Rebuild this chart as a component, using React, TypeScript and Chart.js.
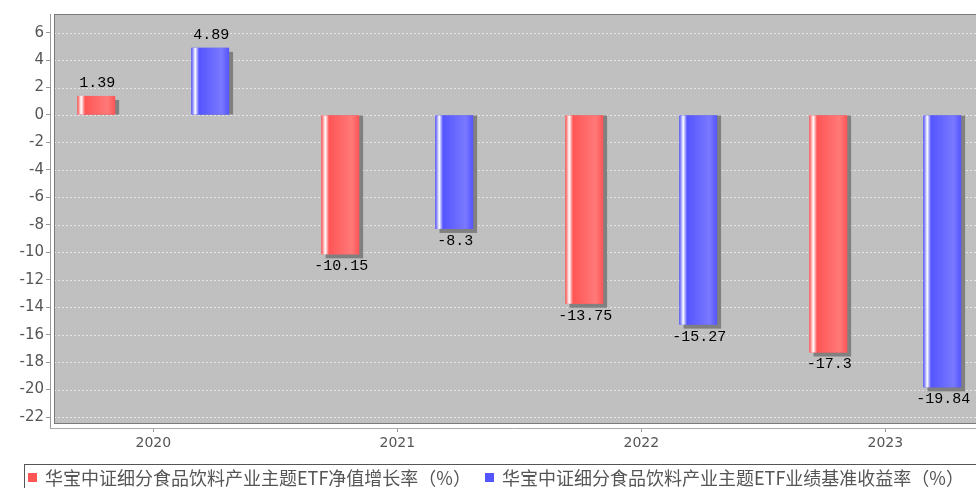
import React, { useEffect, useRef } from "react";
import { Chart, registerables } from "chart.js";

Chart.register(...registerables);

const YEARS = ["2020", "2021", "2022", "2023"];
const NAV_GROWTH = [1.39, -10.15, -13.75, -17.3];
const BENCHMARK = [4.89, -8.3, -15.27, -19.84];
const Y_TICKS = [-22, -20, -18, -16, -14, -12, -10, -8, -6, -4, -2, 0, 2, 4, 6];
const SERIES_NAMES = [
  "华宝中证细分食品饮料产业主题ETF净值增长率（%）",
  "华宝中证细分食品饮料产业主题ETF业绩基准收益率（%）",
];
const BASE_COLORS = ["#ff5555", "#5555ff"];
const LIGHT_COLORS = ["rgb(255,121,121)", "rgb(121,121,255)"];

const plotPlugin = {
  id: "plotFrame",
  beforeDraw(chart: any) {
    const { ctx, chartArea: a } = chart;
    const left = a.left + 4;
    const top = a.top;
    const right = a.right + 4;
    const bottom = a.bottom - 5;
    ctx.save();
    ctx.fillStyle = "#c0c0c0";
    ctx.fillRect(left, top, right - left, bottom - top);
    const ys = chart.scales.y;
    ctx.strokeStyle = "#e6e6e6";
    ctx.lineWidth = 1;
    ctx.setLineDash([2, 2]);
    for (const v of Y_TICKS) {
      const py = Math.round(ys.getPixelForValue(v)) + 0.5;
      ctx.beginPath();
      ctx.moveTo(left, py);
      ctx.lineTo(right, py);
      ctx.stroke();
    }
    ctx.setLineDash([]);
    ctx.strokeStyle = "#7a7a7a";
    ctx.strokeRect(left + 0.5, top + 0.5, right - left, bottom - top);
    ctx.restore();
  },
  beforeDatasetsDraw(chart: any) {
    const { ctx } = chart;
    ctx.save();
    ctx.fillStyle = "#808080";
    chart.data.datasets.forEach((ds: any, di: number) => {
      const meta = chart.getDatasetMeta(di);
      meta.data.forEach((bar: any, i: number) => {
        const { x, y, base, width } = bar.getProps(["x", "y", "base", "width"], true);
        const l = x - width / 2 + 4;
        const v = ds.data[i].y;
        if (v >= 0) {
          ctx.fillRect(l, y + 4, width, base - (y + 4));
        } else {
          ctx.fillRect(l, base, width, y + 4 - base);
        }
      });
    });
    ctx.restore();
  },
  afterDatasetsDraw(chart: any) {
    const { ctx } = chart;
    ctx.save();
    chart.data.datasets.forEach((ds: any, di: number) => {
      const meta = chart.getDatasetMeta(di);
      meta.data.forEach((bar: any, i: number) => {
        const { x, y, base, width } = bar.getProps(["x", "y", "base", "width"], true);
        const l = x - width / 2;
        const r = x + width / 2;
        const top = Math.min(y, base);
        const bot = Math.max(y, base);
        const g = ctx.createLinearGradient(l, 0, r, 0);
        g.addColorStop(0, BASE_COLORS[di]);
        g.addColorStop(0.1, "#ffffff");
        g.addColorStop(0.2, BASE_COLORS[di]);
        g.addColorStop(0.8, LIGHT_COLORS[di]);
        g.addColorStop(1, BASE_COLORS[di]);
        ctx.fillStyle = g;
        ctx.fillRect(l, top, width, bot - top);
        const v = ds.data[i].y;
        ctx.fillStyle = "#000";
        ctx.font = '15px "Liberation Mono"';
        ctx.textAlign = "center";
        ctx.textBaseline = "middle";
        const ty = v >= 0 ? top - 13 : bot + 12;
        ctx.fillText(String(v), x + 1, ty);
      });
    });
    ctx.restore();
  },
  afterDraw(chart: any) {
    const { ctx } = chart;
    ctx.save();
    ctx.strokeStyle = "#555";
    ctx.lineWidth = 1;
    ctx.strokeRect(24.5, 464.5, 1000, 40);
    ctx.font = '18px "Noto Sans CJK SC"';
    ctx.textBaseline = "middle";
    ctx.textAlign = "left";
    const xs = [28, 485];
    SERIES_NAMES.forEach((name, i) => {
      ctx.fillStyle = BASE_COLORS[i];
      ctx.fillRect(xs[i], 473, 9, 9);
      ctx.fillStyle = "#555";
      ctx.fillText(name, xs[i] + 17, 478);
    });
    ctx.restore();
  },
};

export default function App() {
  const ref = useRef<HTMLCanvasElement>(null);
  useEffect(() => {
    if (!ref.current) return;
    const chart = new Chart(ref.current, {
      type: "bar",
      data: {
        datasets: [
          {
            label: SERIES_NAMES[0],
            data: NAV_GROWTH.map((v, i) => ({ x: i, y: v })),
            backgroundColor: BASE_COLORS[0],
            borderWidth: 0,
          },
          {
            label: SERIES_NAMES[1],
            data: BENCHMARK.map((v, i) => ({ x: i, y: v })),
            backgroundColor: BASE_COLORS[1],
            borderWidth: 0,
          },
        ],
      } as any,
      options: {
        responsive: false,
        animation: false,
        categoryPercentage: 0.934,
        barPercentage: 0.33,
        layout: { padding: { top: 14, left: 0, right: 0, bottom: 0 } },
        plugins: { legend: { display: false }, tooltip: { enabled: false } },
        scales: {
          x: {
            type: "linear",
            offset: false,
            min: -0.4234,
            max: 3.3717,
            afterBuildTicks: (s: any) => {
              s.ticks = YEARS.map((_, i) => ({ value: i }));
            },
            afterFit: (s: any) => {
              s.height = 60;
            },
            ticks: {
              callback: (v: any) => YEARS[Math.round(Number(v))],
              font: { family: "DejaVu Sans", size: 14 },
              color: "#555",
              padding: 3,
              maxRotation: 0,
            },
            grid: {
              offset: false,
              drawOnChartArea: false,
              drawTicks: true,
              tickLength: 4,
              tickColor: "#999",
            },
            border: { display: true, color: "#aaa" },
          },
          y: {
            min: -22.8,
            max: 7.356,
            afterBuildTicks: (s: any) => {
              s.ticks = Y_TICKS.map((v) => ({ value: v }));
            },
            afterFit: (s: any) => {
              s.width = 50;
            },
            ticks: {
              callback: (v: any) => String(v),
              font: { family: "DejaVu Sans", size: 15 },
              color: "#555",
              padding: 2,
            },
            grid: {
              drawOnChartArea: false,
              drawTicks: true,
              tickLength: 4,
              tickColor: "#999",
            },
            border: { display: true, color: "#999" },
          },
        },
      } as any,
      plugins: [plotPlugin],
    });
    return () => chart.destroy();
  }, []);
  return (
    <div style={{ position: "absolute", left: 0, top: 0, width: 976, height: 488, background: "#fff" }}>
      <canvas ref={ref} width={976} height={488} style={{ display: "block" }} />
    </div>
  );
}
